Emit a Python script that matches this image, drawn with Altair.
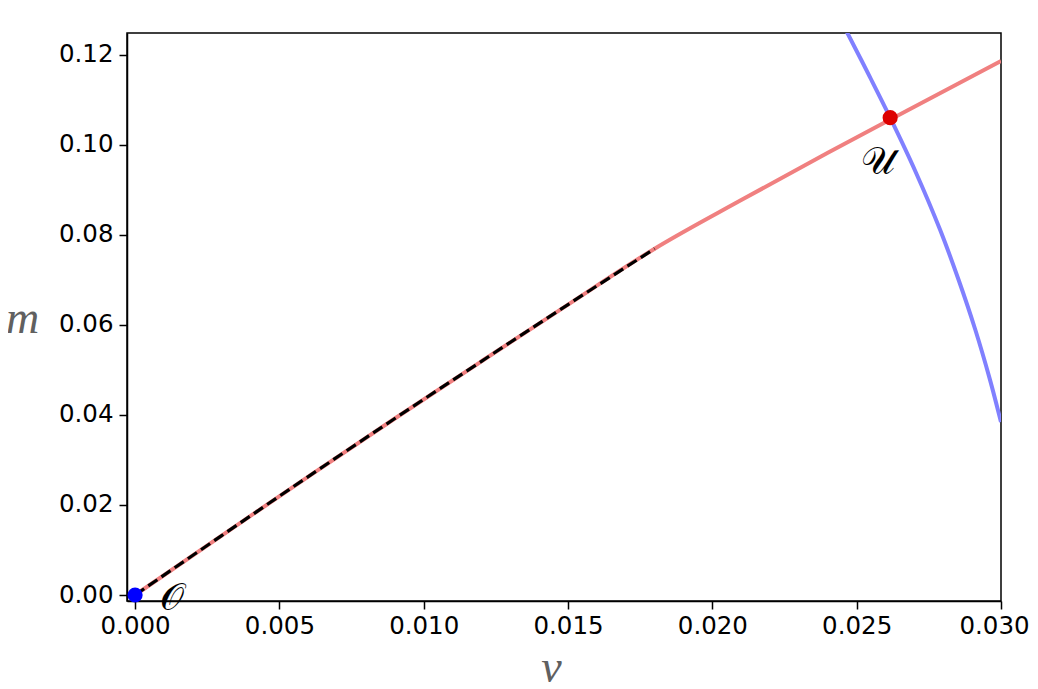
import altair as alt
import pandas as pd

# red curve (m vs v)
red_v = [0.0, 0.003, 0.006, 0.009, 0.012, 0.015, 0.018, 0.021, 0.024, 0.027, 0.030]
red_m = [0.0, 0.0132, 0.0263, 0.0392, 0.0519, 0.0645, 0.0769, 0.0877, 0.0982, 0.1084, 0.1186]

# black dashed approximation
dash_v = [0.0, 0.003, 0.006, 0.009, 0.012, 0.015, 0.018]
dash_m = [0.0, 0.0132, 0.0263, 0.0392, 0.0519, 0.0645, 0.0769]

# blue curve
blue_v = [0.02425, 0.02467, 0.02546, 0.02616, 0.02704, 0.02789, 0.02853, 0.02911, 0.02961, 0.03000]
blue_m = [0.130, 0.1249, 0.115, 0.106, 0.094, 0.0811, 0.070, 0.0589, 0.048, 0.0384]

# points
pt_v = [0.0, 0.02616]
pt_m = [0.0, 0.106]
pt_name = ["O", "U"]
pt_color = ["#0000ff", "#dd0000"]

# labels
lab_text = ["𝒪", "𝒰"]
lab_v = [0.00128, 0.02575]
lab_m = [-0.0008, 0.0960]

x_ticks = [0.0, 0.005, 0.010, 0.015, 0.020, 0.025, 0.030]
y_ticks = [0.0, 0.02, 0.04, 0.06, 0.08, 0.10, 0.12]

red = pd.DataFrame({"v": red_v, "m": red_m, "o": range(len(red_v))})
dash = pd.DataFrame({"v": dash_v, "m": dash_m, "o": range(len(dash_v))})
blue = pd.DataFrame({"v": blue_v, "m": blue_m, "o": range(len(blue_v))})
pts = pd.DataFrame({"v": pt_v, "m": pt_m, "name": pt_name, "c": pt_color})
labs = pd.DataFrame({"v": lab_v, "m": lab_m, "t": lab_text})

xs = alt.Scale(domain=[-0.00028, 0.0300], nice=False, zero=False)
ys = alt.Scale(domain=[-0.00133, 0.1248], nice=False, zero=False)

X = alt.X("v:Q", scale=xs, axis=alt.Axis(
    values=x_ticks, format=".3f", title="v", grid=False,
    labelFont="DejaVu Sans", labelFontSize=24.5, labelColor="black", labelPadding=5,
    labelOffset={"condition": {"test": "datum.value >= 0.0299", "value": -7}, "value": 0},
    tickSize=8, tickWidth=1.5, tickColor="black", domainColor="black", domainWidth=1.5,
    titleFont="Liberation Serif", titleFontStyle="italic", titleFontWeight="normal",
    titleFontSize=46, titleColor="#606060", titleX=424, titleY=80,
    titleAlign="center", titleBaseline="alphabetic", labelFlush=False))
Y = alt.Y("m:Q", scale=ys, axis=alt.Axis(
    values=y_ticks, format=".2f", title="m", grid=False,
    labelFont="DejaVu Sans", labelFontSize=24.5, labelColor="black", labelPadding=6,
    tickSize=8, tickWidth=1.5, tickColor="black", domainColor="black", domainWidth=1.5,
    titleFont="Liberation Serif", titleFontStyle="italic", titleFontWeight="normal",
    titleFontSize=46, titleColor="#606060", titleAngle=0, titleX=-105, titleY=299,
    titleAlign="center", titleBaseline="alphabetic", labelFlush=False))

red_line = alt.Chart(red).mark_line(color="#f08080", strokeWidth=4, clip=True,
                                    interpolate="monotone").encode(
    x=X, y=Y, order="o:Q")
dash_line = alt.Chart(dash).mark_line(color="black", strokeWidth=3.2, strokeDash=[11, 5], clip=True,
                                      interpolate="monotone").encode(
    x="v:Q", y="m:Q", order="o:Q")
blue_line = alt.Chart(blue).mark_line(color="#8080ff", strokeWidth=4, clip=True,
                                      interpolate="catmull-rom").encode(
    x="v:Q", y="m:Q", order="o:Q")
points = alt.Chart(pts).mark_circle(size=230, opacity=1).encode(
    x="v:Q", y="m:Q", color=alt.Color("c:N", scale=None))
labels = alt.Chart(labs).mark_text(fontSize=38, font="DejaVu Serif", color="black",
                                   align="center", baseline="middle").encode(
    x="v:Q", y="m:Q", text="t:N")

chart = alt.layer(red_line, blue_line, dash_line, points, labels).properties(
    width=874, height=568,
    autosize=alt.AutoSizeParams(type="none"),
    padding={"left": 119, "top": 25, "right": 29, "bottom": 86},
).configure(background="white").configure_view(stroke="black", strokeWidth=1.5)

chart.save("out.html", embed_options={"renderer": "svg", "actions": False})
